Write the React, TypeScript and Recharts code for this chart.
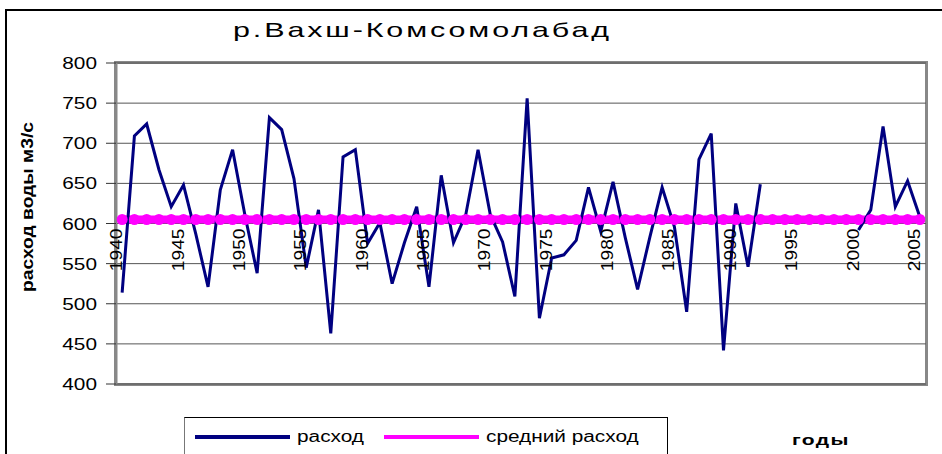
import { LineChart, Line, XAxis, YAxis, CartesianGrid } from 'recharts'

// years 1940..2005, one category each
const YEARS = Array.from({ length: 66 }, (_, i) => String(1940 + i))

// annual discharge, m3/s (1993-1999 missing)
const FLOW: (number | null)[] = [
  514, 709, 724, 667, 621, 648, 587, 521, 642, 692,
  611, 538, 732, 717, 656, 545, 617, 463, 683, 692,
  575, 601, 525, 576, 621, 521, 660, 576, 611, 692,
  611, 577, 509, 756, 482, 557, 561, 579, 645, 590,
  652, 582, 518, 583, 645, 596, 490, 680, 712, 442,
  625, 546, 649, null, null, null, null, null, null, null,
  592, 617, 721, 621, 653, 608,
]

const MEAN_FLOW = 605

const Y_TICKS = [400, 450, 500, 550, 600, 650, 700, 750, 800]

const SERIES = [
  { key: 'flow', label: 'расход', color: '#000080' },
  { key: 'mean', label: 'средний расход', color: '#ff00ff' },
]

const data = YEARS.map((year, i) => ({ year, flow: FLOW[i], mean: MEAN_FLOW }))

const FONT = '"Liberation Sans", Arial, sans-serif'
const PLOT_TOP = 63
const PLOT_H = 321
const PLOT_LEFT = 116
const PLOT_W = 810
const AXIS_CROSS = 600
const yOf = (v: number) => PLOT_TOP + (PLOT_H * (800 - v)) / 400

// Excel-ish wide glyphs
const STRETCH = 1.3

function YearTick({ x, payload }: any) {
  const y = yOf(AXIS_CROSS) + 5
  return (
    <text
      x={0}
      y={0}
      transform={`translate(${x} ${y}) rotate(-90) scale(1.2 1)`}
      textAnchor="end"
      fontSize={16}
      fontFamily={FONT}
      fill="#000"
    >
      {payload.value}
    </text>
  )
}

function ValueTick({ x, y, payload }: any) {
  return (
    <text
      x={0}
      y={0}
      dy={6}
      transform={`translate(${x} ${y}) scale(${STRETCH} 1)`}
      textAnchor="end"
      fontSize={16}
      fontFamily={FONT}
      fill="#000"
    >
      {payload.value}
    </text>
  )
}

const wide = (s: number): React.CSSProperties => ({
  transform: `scaleX(${s})`,
  transformOrigin: 'left center',
  whiteSpace: 'nowrap',
})

export default function App() {
  return (
    <div style={{ position: 'absolute', left: 0, top: 0, width: 942, height: 454, background: '#fff', overflow: 'hidden', fontFamily: FONT }}>
      {/* outer frame */}
      <div style={{ position: 'absolute', left: 5, top: 9, width: 960, height: 470, borderLeft: '2px solid #000', borderTop: '2px solid #000' }} />
      {/* plot area border */}
      <div
        style={{
          position: 'absolute',
          left: PLOT_LEFT - 2,
          top: PLOT_TOP - 2,
          width: PLOT_W + 4,
          height: PLOT_H + 4,
          border: '3px solid #888',
          boxSizing: 'border-box',
        }}
      />
      <div style={{ position: 'absolute', left: 233, top: 18, fontSize: 21, letterSpacing: 2, ...wide(1.45) }}>
        р.Вахш-Комсомолабад
      </div>
      <div
        style={{
          position: 'absolute',
          left: 28,
          top: 207,
          transform: 'translate(-50%, -50%) rotate(-90deg) scaleX(1.2)',
          fontSize: 16,
          fontWeight: 'bold',
          whiteSpace: 'nowrap',
        }}
      >
        расход воды м3/с
      </div>
      <div style={{ position: 'absolute', left: 792, top: 431, fontSize: 15, fontWeight: 'bold', letterSpacing: 1, ...wide(1.4) }}>
        годы
      </div>

      {/* legend */}
      <div
        style={{
          position: 'absolute',
          left: 184,
          top: 417,
          width: 484,
          height: 60,
          border: '1px solid #000',
          borderLeftColor: '#777',
          boxSizing: 'border-box',
        }}
      >
        {SERIES.map((s, i) => (
          <div key={s.key} style={{ position: 'absolute', left: i === 0 ? 10 : 199, top: 10, display: 'flex', alignItems: 'center' }}>
            <span style={{ display: 'inline-block', width: 95, height: 4, background: s.color, marginRight: 7 }} />
            <span style={{ fontSize: 16, ...wide(STRETCH) }}>{s.label}</span>
          </div>
        ))}
      </div>

      <LineChart
        width={942}
        height={454}
        data={data}
        margin={{ top: PLOT_TOP, right: 942 - PLOT_LEFT - PLOT_W, bottom: 454 - PLOT_TOP - PLOT_H - 30, left: 0 }}
        style={{ position: 'absolute', left: 0, top: 0 }}
      >
        <CartesianGrid vertical={false} stroke="#555" strokeWidth={1} />
        <XAxis
          dataKey="year"
          height={30}
          interval={4}
          padding={{ left: PLOT_W / 132, right: PLOT_W / 132 }}
          axisLine={false}
          tickLine={false}
          tick={<YearTick />}
        />
        <YAxis
          width={PLOT_LEFT}
          domain={[400, 800]}
          ticks={Y_TICKS}
          interval={0}
          tickSize={10}
          tickMargin={9}
          axisLine={{ stroke: '#888', strokeWidth: 3 }}
          tickLine={{ stroke: '#333' }}
          tick={<ValueTick />}
        />
        <Line
          dataKey="mean"
          name="средний расход"
          stroke="#ff00ff"
          strokeWidth={8}
          dot={{ r: 5.5, fill: '#ff00ff', stroke: 'none' }}
          isAnimationActive={false}
        />
        <Line
          dataKey="flow"
          name="расход"
          type="linear"
          stroke="#000080"
          strokeWidth={3}
          dot={false}
          connectNulls={false}
          isAnimationActive={false}
        />
      </LineChart>
    </div>
  )
}
